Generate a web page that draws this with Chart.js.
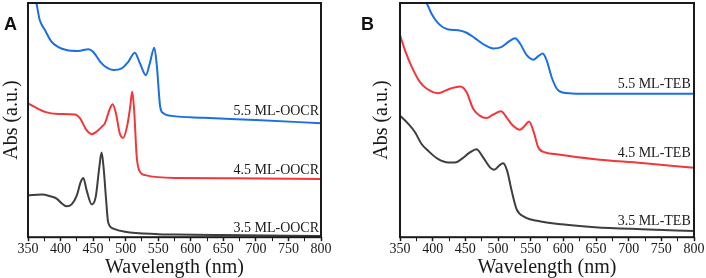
<!DOCTYPE html>
<html>
<head>
<meta charset="utf-8">
<script src="https://cdn.jsdelivr.net/npm/chart.js@4.4.0/dist/chart.umd.min.js"></script>
<style>
    body { margin: 0; background: #fff; width: 706px; height: 278px; overflow: hidden; }
    .panel { position: absolute; top: 0; width: 353px; height: 278px; }
    .tag { position: absolute; font: bold 18px "Liberation Sans", Arial, sans-serif; color: #111; }
</style>
</head>
<body>
<div class="panel" style="left:0"><canvas id="chartA" width="353" height="278"></canvas></div>
<div class="panel" style="left:353px"><canvas id="chartB" width="353" height="278"></canvas></div>
<div class="tag" style="left:4px; top:14px">A</div>
<div class="tag" style="left:361px; top:14px">B</div>

<script>
// ---- panel A : OOCR ----
const ooc55Nm = [350, 357, 363, 368, 376, 386, 396, 409, 427, 443, 450, 461, 471, 481, 494, 504, 514, 522, 531, 537, 544, 548, 553, 558, 571, 620, 700, 800];
const ooc55Abs = [116, 106, 99.9, 92.7, 88.5, 83.5, 81.3, 79.9, 79.5, 80.3, 79.2, 74.9, 72.4, 71.4, 72.1, 74.9, 78.8, 74.2, 69.2, 74.2, 80.9, 72.8, 55.7, 52.9, 51.8, 51.0, 50.0, 48.7];

const ooc45Nm = [350, 376, 396, 422, 430, 440, 448, 455, 463, 468, 476, 480, 485, 491, 496, 502, 507, 510, 513, 517, 522, 530, 576, 665, 800];
const ooc45Abs = [57.1, 53.5, 52.6, 52.4, 50.7, 45.7, 44.0, 45.0, 47.1, 48.6, 55.0, 56.8, 52.9, 44.3, 42.4, 47.1, 55.7, 62.1, 54.3, 34.3, 27.9, 26.5, 25.3, 25.2, 24.8];

const ooc35Nm = [350, 371, 384, 394, 402, 409, 417, 425, 431, 435, 440, 448, 454, 459, 463, 466, 470, 473, 481, 499, 550, 576, 650, 800];
const ooc35Abs = [17.9, 18.2, 17.5, 16.5, 14.4, 13.2, 14.0, 17.9, 23.6, 25.3, 20.1, 14.0, 17.2, 28.6, 36.2, 30.0, 15.8, 6.5, 3.7, 2.3, 1.3, 1.15, 0.9, 0.5];

// ---- panel B : TEB ----
const teb55Nm = [350, 370, 391, 398.5, 408.6, 424, 439, 452, 465, 480, 493, 505.7, 518, 526, 533.7, 544, 554, 561.7, 568.4, 574.5, 582, 590, 597.5, 613, 648, 720, 800];
const teb55Abs = [128, 112, 99.9, 95.3, 91.3, 88.7, 88.4, 87.3, 84.9, 82.0, 80.6, 81.3, 83.8, 84.9, 82.7, 77.7, 75.8, 77.3, 78.4, 75.5, 68.4, 63.4, 61.9, 61.4, 61.2, 61.3, 61.2];

const teb45Nm = [350, 357.7, 368, 380.6, 391, 408.6, 426.5, 442, 452, 462, 472, 482.7, 492.8, 504.6, 513, 523, 533.7, 541, 547.5, 554, 561.7, 572, 587, 648.5, 720, 800];
const teb45Abs = [86.3, 79.8, 72.7, 66.2, 63.4, 61.5, 63.4, 64.4, 61.9, 54.8, 51.9, 50.9, 52.4, 53.8, 51.2, 47.6, 45.9, 47.6, 49.4, 45.5, 38.3, 36.2, 35.5, 33.3, 31.7, 29.6];

const teb35Nm = [350, 362.7, 373, 383, 393, 408.6, 424, 434, 444, 457, 467, 477.5, 488, 494, 503, 508, 514, 521, 528.6, 541, 561.7, 597.5, 648.5, 720, 800];
const teb35Abs = [51.9, 48.4, 44.8, 39.8, 36.9, 33.3, 31.9, 31.9, 33.3, 36.2, 37.6, 34.0, 29.7, 28.8, 30.9, 31.6, 28.3, 19.7, 11.9, 8.6, 6.9, 5.5, 4.3, 3.4, 2.6];

const BLUE = "#1b6ee6";
const RED = "#f2363a";
const DARK = "#3e3e3e";
const SERIF = '"Liberation Serif", "Times New Roman", serif';

function toPoints(xs, ys) {
    return xs.map((x, i) => ({ x: x, y: ys[i] }));
}

// frame round the plot area
const framePlugin = {
    id: "frame",
    afterDatasetsDraw(chart) {
        const a = chart.chartArea;
        const ctx = chart.ctx;
        ctx.save();
        ctx.strokeStyle = "#1a1a1a";
        ctx.lineWidth = 2;
        ctx.strokeRect(a.left, a.top, a.right - a.left, a.bottom - a.top);
        ctx.restore();
    },
};

// series names written inside the plot
const tagPlugin = {
    id: "seriesTags",
    afterDraw(chart, args, opts) {
        const ctx = chart.ctx;
        const xs = chart.scales.x;
        const ys = chart.scales.y;
        ctx.save();
        ctx.font = "14px " + SERIF;
        ctx.fillStyle = "#1a1a1a";
        ctx.textAlign = "right";
        ctx.textBaseline = "alphabetic";
        (opts.items || []).forEach((t) => {
            ctx.fillText(t.text, xs.getPixelForValue(t.x), ys.getPixelForValue(t.y));
        });
        ctx.restore();
    },
};

function makePanel(id, series, tags, padding, yTitlePad) {
    return new Chart(document.getElementById(id), {
        type: "line",
        data: {
            datasets: series.map((s) => ({
                label: s.name,
                data: toPoints(s.nm, s.abs),
                borderColor: s.color,
                borderWidth: 2,
                pointRadius: 0,
                fill: false,
                cubicInterpolationMode: "monotone",
            })),
        },
        options: {
            responsive: false,
            devicePixelRatio: 1,
            animation: false,
            layout: { padding: padding },
            plugins: {
                legend: { display: false },
                tooltip: { enabled: false },
                seriesTags: { items: tags },
            },
            scales: {
                x: {
                    type: "linear",
                    min: 350,
                    max: 800,
                    border: { display: false },
                    grid: {
                        drawOnChartArea: false,
                        tickLength: 4,
                        tickColor: "#1a1a1a",
                        tickWidth: (c) => (c.tick && c.tick.value % 50 === 0 ? 1.5 : 1),
                    },
                    ticks: {
                        stepSize: 25,
                        autoSkip: false,
                        maxRotation: 0,
                        padding: 0,
                        color: "#1a1a1a",
                        font: { family: SERIF, size: 14 },
                        callback: (v) => (v % 50 === 0 ? v : ""),
                    },
                    title: {
                        display: true,
                        text: "Wavelength (nm)",
                        color: "#1a1a1a",
                        font: { family: SERIF, size: 20, lineHeight: 1 },
                        padding: { top: 0, bottom: 0 },
                    },
                },
                y: {
                    min: 0,
                    max: 100,
                    border: { display: false },
                    grid: { display: false, drawTicks: false },
                    ticks: { display: false },
                    title: {
                        display: true,
                        text: "Abs (a.u.)",
                        color: "#1a1a1a",
                        font: { family: SERIF, size: 20, lineHeight: 1.2 },
                        padding: yTitlePad,
                    },
                },
            },
        },
        plugins: [framePlugin, tagPlugin],
    });
}

makePanel(
    "chartA",
    [
        { name: "5.5 ML-OOCR", nm: ooc55Nm, abs: ooc55Abs, color: BLUE },
        { name: "4.5 ML-OOCR", nm: ooc45Nm, abs: ooc45Abs, color: RED },
        { name: "3.5 ML-OOCR", nm: ooc35Nm, abs: ooc35Abs, color: DARK },
    ],
    [
        { text: "5.5 ML-OOCR", x: 797, y: 52.1 },
        { text: "4.5 ML-OOCR", x: 797, y: 26.9 },
        { text: "3.5 ML-OOCR", x: 797, y: 2.1 },
    ],
    { left: 0, right: 32, top: 3, bottom: 0 },
    { top: 0, bottom: 4 }
);

makePanel(
    "chartB",
    [
        { name: "5.5 ML-TEB", nm: teb55Nm, abs: teb55Abs, color: BLUE },
        { name: "4.5 ML-TEB", nm: teb45Nm, abs: teb45Abs, color: RED },
        { name: "3.5 ML-TEB", nm: teb35Nm, abs: teb35Abs, color: DARK },
    ],
    [
        { text: "5.5 ML-TEB", x: 795, y: 63.9 },
        { text: "4.5 ML-TEB", x: 795, y: 34.3 },
        { text: "3.5 ML-TEB", x: 795, y: 5.2 },
    ],
    { left: 0, right: 12, top: 3, bottom: 0 },
    { top: 16.5, bottom: 6.5 }
);
</script>
</body>
</html>
